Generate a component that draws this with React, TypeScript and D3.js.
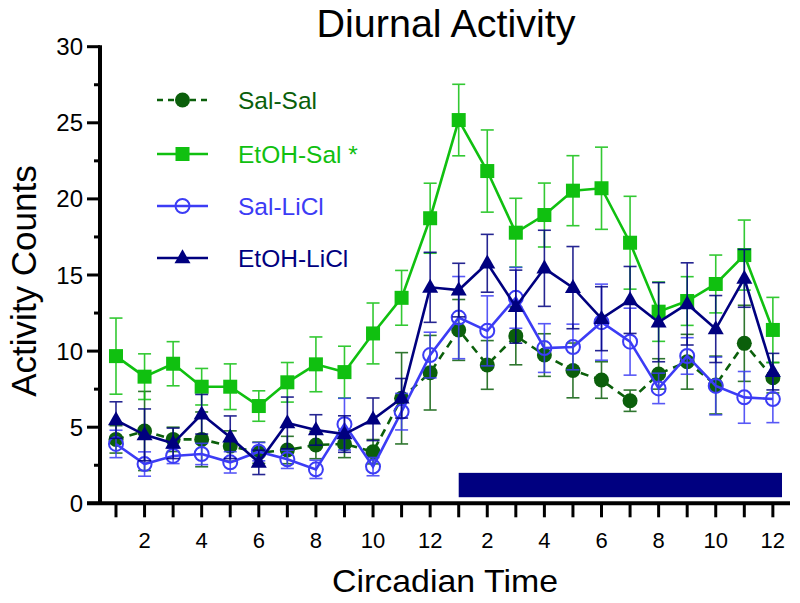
import React from "react";
import * as d3 from "d3";

const hours = d3.range(1, 25);
const xTickLabels = ["", "2", "", "4", "", "6", "", "8", "", "10", "", "12", "", "2", "", "4", "", "6", "", "8", "", "10", "", "12"];
const yTicks = [0, 5, 10, 15, 20, 25, 30];
const yMinorTicks = [2.5, 7.5, 12.5, 17.5, 22.5, 27.5];

const salSal = [4.2, 4.75, 4.2, 4.2, 3.76, 3.32, 3.5, 3.83, 3.9, 3.39, 6.9, 8.58, 11.39, 9.09, 11.0, 9.74, 8.73, 8.1, 6.74, 8.5, 9.3, 7.77, 10.51, 8.25];
const salSalErr = [0.9, 2.6, 0.8, 1.8, 1.0, 0.7, 0.9, 0.9, 0.9, 0.8, 3.0, 2.45, 2.0, 1.6, 1.9, 1.4, 1.8, 1.2, 0.7, 1.0, 1.8, 1.9, 2.5, 1.0];
const etohSal = [9.67, 8.32, 9.17, 7.66, 7.66, 6.39, 7.95, 9.13, 8.62, 11.16, 13.5, 18.73, 25.18, 21.83, 17.78, 18.94, 20.54, 20.7, 17.12, 12.59, 13.29, 14.41, 16.31, 11.39];
const etohSalErr = [2.5, 1.5, 1.45, 1.2, 1.5, 1.0, 1.3, 1.8, 1.7, 2.0, 1.8, 2.3, 2.35, 2.7, 2.26, 2.1, 2.3, 2.7, 3.05, 1.95, 1.6, 1.9, 2.3, 2.14];
const salLiCl = [3.9, 2.58, 3.11, 3.24, 2.69, 3.39, 2.89, 2.23, 5.2, 2.41, 6.02, 9.74, 12.2, 11.33, 13.5, 10.2, 10.27, 11.9, 10.62, 7.55, 9.68, 7.71, 6.96, 6.85];
const salLiClErr = [0.9, 0.8, 0.5, 0.7, 0.7, 0.6, 0.6, 0.6, 1.7, 0.6, 1.2, 1.5, 2.7, 2.3, 2.0, 1.6, 1.5, 2.5, 2.2, 1.0, 1.2, 1.9, 1.7, 1.55];
const etohLiCl = [5.47, 4.5, 3.94, 5.85, 4.34, 2.69, 5.28, 4.82, 4.55, 5.52, 6.9, 14.19, 14.01, 15.77, 12.92, 15.44, 14.17, 12.13, 13.36, 11.9, 13.1, 11.45, 14.78, 8.65];
const etohLiClErr = [1.2, 1.7, 1.0, 1.3, 1.4, 0.8, 1.7, 1.0, 1.2, 1.4, 1.3, 2.3, 1.76, 1.9, 2.4, 2.5, 2.7, 2.1, 2.2, 2.6, 2.7, 2.2, 1.9, 1.2];

const darkPhase = [13, 24.32];
const darkPhaseY = [0.4, 2.0];

const seriesNames = ["Sal-Sal", "EtOH-Sal *", "Sal-LiCl", "EtOH-LiCl"];
const seriesColors = ["#0b5f0b", "#10c010", "#3c3cf5", "#00007f"];
const seriesMarkers = ["circle", "square", "open", "triangle"];

const FONT = "'Liberation Sans', Arial, Helvetica, sans-serif";

function Marker({ type, cx, cy, color }: { type: string; cx: number; cy: number; color: string }) {
  if (type === "circle") return <circle cx={cx} cy={cy} r={7.5} fill={color} />;
  if (type === "open") return <circle cx={cx} cy={cy} r={7} fill="none" stroke={color} strokeWidth={2} />;
  if (type === "square") return <rect x={cx - 7} y={cy - 7} width={14} height={14} fill={color} />;
  const h = 14;
  const w = 16;
  return <path d={`M${cx},${cy - h * 0.62} L${cx + w / 2},${cy + h * 0.38} L${cx - w / 2},${cy + h * 0.38} Z`} fill={color} />;
}

export default function App() {
  const x = d3.scaleLinear().domain([0.44, 24.6]).range([100, 790]);
  const y = d3.scaleLinear().domain([0, 30]).range([503.3, 46.7]);

  const data = [
    { vals: salSal, errs: salSalErr },
    { vals: etohSal, errs: etohSalErr },
    { vals: salLiCl, errs: salLiClErr },
    { vals: etohLiCl, errs: etohLiClErr },
  ];

  const line = d3
    .line<number>()
    .x((_, i) => x(hours[i]))
    .y((d) => y(d));

  const capW = 6.5;
  const legendY = [100, 154, 206, 258];

  return (
    <div style={{ position: "absolute", left: 0, top: 0 }}>
      <svg width={800} height={603} style={{ display: "block", background: "#fff" }} fontFamily={FONT}>
        {/* Title */}
        <text x={446} y={37} textAnchor="middle" fontSize={39.5} fill="#000">
          Diurnal Activity
        </text>

        {/* dark phase bar */}
        <rect
          x={x(darkPhase[0])}
          y={y(darkPhaseY[1])}
          width={x(darkPhase[1]) - x(darkPhase[0])}
          height={y(darkPhaseY[0]) - y(darkPhaseY[1])}
          fill="#000080"
        />

        {/* series */}
        {data.map((s, si) => {
          const color = seriesColors[si];
          return (
            <g key={si}>
              {s.vals.map((v, i) => {
                const cx = x(hours[i]);
                const top = y(v + s.errs[i]);
                const bot = y(v - s.errs[i]);
                return (
                  <g key={i} stroke={color} strokeWidth={1.6} opacity={0.85}>
                    <line x1={cx} x2={cx} y1={top} y2={bot} />
                    <line x1={cx - capW} x2={cx + capW} y1={top} y2={top} />
                    <line x1={cx - capW} x2={cx + capW} y1={bot} y2={bot} />
                  </g>
                );
              })}
              <path
                d={line(s.vals) || ""}
                fill="none"
                stroke={color}
                strokeWidth={2.6}
                strokeDasharray={si === 0 ? "8,6" : undefined}
              />
              {s.vals.map((v, i) => (
                <Marker key={i} type={seriesMarkers[si]} cx={x(hours[i])} cy={y(v)} color={color} />
              ))}
            </g>
          );
        })}

        {/* Y axis */}
        <line x1={100} x2={100} y1={y(30) - 1.5} y2={y(0) + 1.5} stroke="#000" strokeWidth={4} />
        {yTicks.map((t) => (
          <g key={t}>
            <line x1={87} x2={100} y1={y(t)} y2={y(t)} stroke="#000" strokeWidth={3} />
            <text x={83} y={y(t) + 8.5} textAnchor="end" fontSize={24} fill="#000">
              {t}
            </text>
          </g>
        ))}
        {yMinorTicks.map((t) => (
          <line key={t} x1={94} x2={100} y1={y(t)} y2={y(t)} stroke="#000" strokeWidth={3} />
        ))}

        {/* X axis */}
        <line x1={87} x2={x(24.6)} y1={y(0)} y2={y(0)} stroke="#000" strokeWidth={4} />
        {hours.map((h, i) => (
          <g key={h}>
            <line x1={x(h)} x2={x(h)} y1={y(0)} y2={y(0) + 14} stroke="#000" strokeWidth={3} />
            <text x={x(h)} y={548} textAnchor="middle" fontSize={22} fill="#000">
              {xTickLabels[i]}
            </text>
          </g>
        ))}

        {/* Axis titles */}
        <text
          x={445}
          y={592}
          textAnchor="middle"
          fontSize={32}
          textLength={226}
          lengthAdjust="spacingAndGlyphs"
          fill="#000"
        >
          Circadian Time
        </text>
        <text
          transform={`translate(36,281) rotate(-90)`}
          textAnchor="middle"
          fontSize={35}
          fill="#000"
        >
          Activity Counts
        </text>

        {/* Legend */}
        {seriesNames.map((name, si) => (
          <g key={name}>
            <line
              x1={157}
              x2={208}
              y1={legendY[si]}
              y2={legendY[si]}
              stroke={seriesColors[si]}
              strokeWidth={2.6}
              strokeDasharray={si === 0 ? "6,5" : undefined}
            />
            <Marker type={seriesMarkers[si]} cx={182.5} cy={legendY[si]} color={seriesColors[si]} />
            <text x={238} y={legendY[si] + 9} fontSize={24.5} fill={seriesColors[si]}>
              {name}
            </text>
          </g>
        ))}
      </svg>
    </div>
  );
}
